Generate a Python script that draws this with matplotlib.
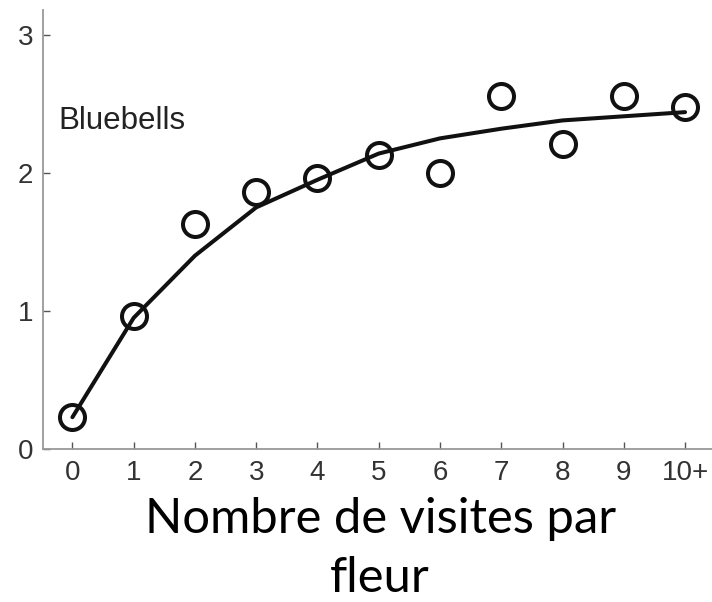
import matplotlib
matplotlib.use('Agg')
import matplotlib.pyplot as plt

# visits per flower (last one is "10+")
visits = [0, 1, 2, 3, 4, 5, 6, 7, 8, 9, 10]
tick_labels = ['0', '1', '2', '3', '4', '5', '6', '7', '8', '9', '10+']
# observed values (circles)
observed = [0.23, 0.96, 1.63, 1.86, 1.96, 2.13, 2.00, 2.56, 2.21, 2.56, 2.48]
# fitted curve
fitted = [0.23, 0.95, 1.40, 1.75, 1.95, 2.14, 2.25, 2.32, 2.38, 2.41, 2.44]

fig = plt.figure(figsize=(7.12, 6.02), dpi=100)
ax = fig.add_axes([0.0604, 0.2542, 0.9396, 0.7292])

ax.plot(visits, fitted, color='#111111', lw=2.9, solid_capstyle='round', zorder=2)
ax.plot(visits, observed, 'o', ms=18, mfc='none', mec='#111111', mew=2.9, zorder=3)

ax.text(-0.23, 2.32, 'Bluebells', fontsize=22.5, color='#222222',
        family='Liberation Sans', va='baseline', ha='left')

ax.set_xlim(-0.48, 10.44)
ax.set_ylim(0, 3.18)
ax.set_xticks(visits)
ax.set_xticklabels(tick_labels)
ax.set_yticks([0, 1, 2, 3])

for side in ['top', 'right']:
    ax.spines[side].set_visible(False)
for side in ['left', 'bottom']:
    ax.spines[side].set_color('#999999')
    ax.spines[side].set_linewidth(1.3)

ax.tick_params(direction='in', length=5, width=1, color='#555555',
               labelsize=20, labelcolor='#333333')
ax.tick_params(axis='x', pad=8)
ax.tick_params(axis='y', pad=7)
for lab in ax.get_xticklabels() + ax.get_yticklabels():
    lab.set_family('Liberation Sans')

# x label, two lines like the original slide
fig.text(0.534, 1 - 533 / 602, 'Nombre de visites par', ha='center', va='baseline',
         fontsize=35.3, family='Lato', color='black')
fig.text(0.534, 1 - 592 / 602, 'fleur', ha='center', va='baseline',
         fontsize=35.3, family='Lato', color='black')

fig.savefig('out.png', dpi=100)
